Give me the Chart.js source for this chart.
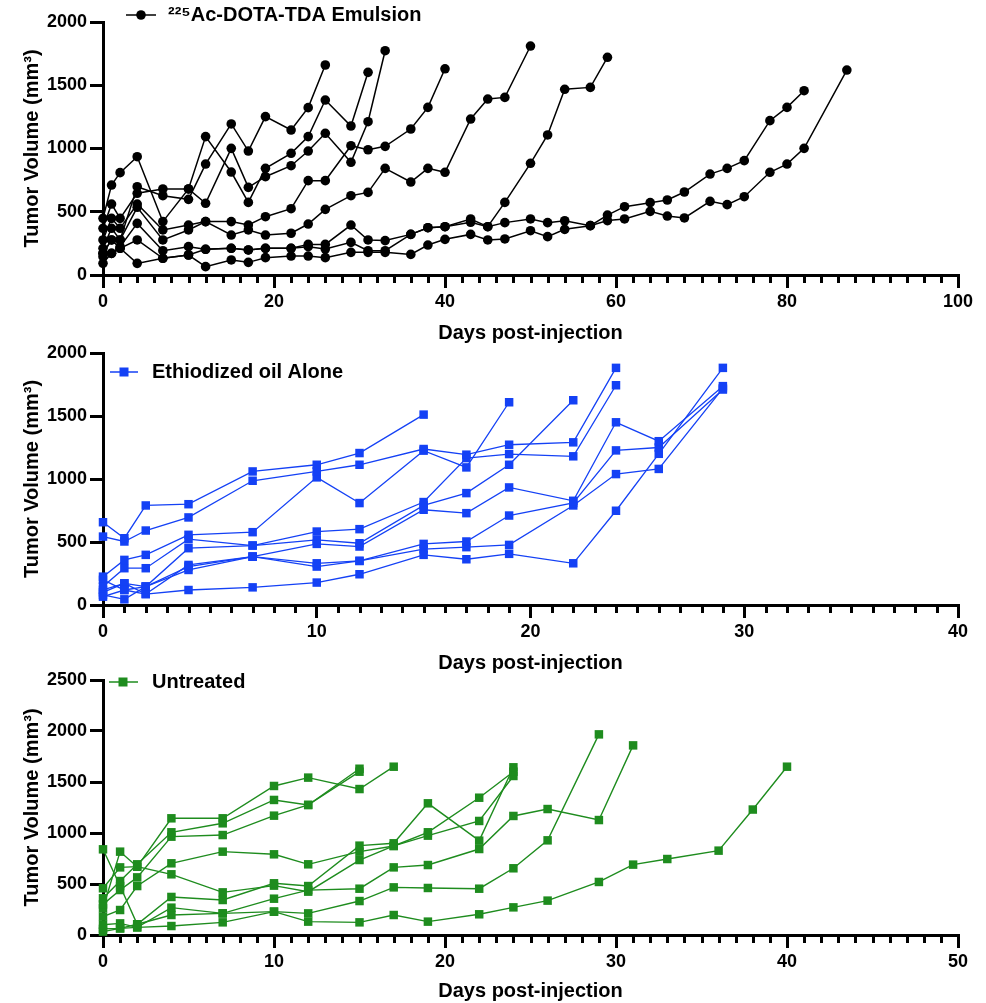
<!DOCTYPE html>
<html><head><meta charset="utf-8">
<script src="https://cdn.jsdelivr.net/npm/chart.js@4.4.1/dist/chart.umd.min.js"></script>
<style>
html,body{margin:0;padding:0;background:#fff;}
body{width:986px;height:1003px;position:relative;overflow:hidden;}
canvas{position:absolute;left:0;}
</style></head><body>
<canvas id="c1" width="986" height="345" style="top:0px"></canvas>
<canvas id="c2" width="986" height="345" style="top:330px"></canvas>
<canvas id="c3" width="986" height="343" style="top:660px"></canvas>
<script>
// ---------- Panel 1: 225Ac-DOTA-TDA Emulsion ----------
const acDays = [0,1,2,4,7,10,12,15,17,19,22,24,26,29,31,33,36,38,40,43,45,47,50,52,54,57,59,61,64,66,68,71,73,75,78,80,82,87];
const acMouse1 = [211,369,277,698,627,598,877,1194,980,1252,1146,1323,1660];
const acMouse2 = [448,711,809,935,422,680,1094,814,574,843,962,1094,1383,1178,1602];
const acMouse3 = [369,561,448,646,680,680,567,1001,693,777,864,980,1120,891,1212,1773];
const acMouse4 = [277,448,369,561,356,395,422,422,395,461,524,746,746,1022,990,1017,1154,1325,1630];
const acMouse5 = [171,277,277,535,277,356,422,316,356,316,330,403,519,627,653,843,735,843,812,1233,1391,1404,1810];
const acMouse6 = [145,171,224,408,192,224,203,211,198,211,211,224,205,258,192,192,321,374,382,443,382,574,883,1107,1468,1483,1721];
const acMouse7 = [92,171,211,277,132,158,203,211,198,211,211,242,242,395,277,272,321,374,382,417,382,414,443,414,429,390,474,540,572,593,656,798,843,904,1220,1325,1457];
const acMouse8 = [171,277,211,92,132,158,66,119,100,137,150,150,137,179,179,179,163,237,282,321,277,285,350,303,361,390,430,443,503,466,451,582,556,619,812,877,1001,1620];
const acXTicks = [0,20,40,60,80,100];
const acYTicks = [0,500,1000,1500,2000];

// ---------- Panel 2: Ethiodized oil Alone ----------
const oilDays = [0,1,2,4,7,10,12,15,17,19,22,24,26,29];
const oilMouse1 = [657,530,790,800,1060,1113,1206,1511];
const oilMouse2 = [543,504,591,695,986,1060,1113,1238,1193,1272,1291,1882];
const oilMouse3 = [225,358,398,557,578,1013,809,1225,1092,1609];
const oilMouse4 = [146,292,292,522,472,583,602,817,1166,1198,1180,1744];
const oilMouse5 = [66,119,146,451,472,517,490,790,888,1113,1625];
const oilMouse6 = [100,172,87,318,384,485,464,756,729,933,827,1450,1300,1737];
const oilMouse7 = [80,45,146,278,384,331,350,485,504,710,810,1227,1250,1710];
const oilMouse8 = [200,119,87,119,140,178,244,398,363,406,331,748,1200,1882];
const oilMouse9 = [120,172,146,305,384,305,350,443,459,477,790,1039,1080,1720];
const oilXTicks = [0,10,20,30,40];
const oilYTicks = [0,500,1000,1500,2000];

// ---------- Panel 3: Untreated ----------
const untDays = [0,1,2,4,7,10,12,15,17,19,22,24,26,29,31,33,36,38,40];
const untMouse1 = [360,529,693,1007,1095,1324,1275,1630];
const untMouse2 = [300,441,565,964,980,1170,1275,1601];
const untMouse3 = [458,663,670,1144,1144,1461,1543,1431,1650];
const untMouse4 = [840,480,105,373,343,507,480,876,899,1291,925,1644];
const untMouse5 = [180,245,480,703,817,791,693,817,873,1007,1346,1601];
const untMouse6 = [261,817,670,595,418,484,425,735,873,974,1118,1559];
const untMouse7 = [100,114,75,268,212,356,440,454,663,686,843,1167,1235,1127,1859];
const untMouse8 = [60,65,105,196,212,229,212,333,467,461,454,654,928,1967];
const untMouse9 = [33,65,75,88,124,229,131,124,196,131,203,271,337,520,690,745,827,1230,1650];
const untXTicks = [0,10,20,30,40,50];
const untYTicks = [0,500,1000,1500,2000,2500];

const FONT = "'Liberation Sans', Arial, Helvetica, sans-serif";
Chart.defaults.font.family = FONT;
Chart.defaults.font.weight = 'bold';
Chart.defaults.color = '#000';

function toPoints(days, vals) { return vals.map((v, i) => ({ x: days[i], y: v })); }

function makeSets(days, mice, color, style, radius, lw) {
  return mice.map((vals, i) => ({
    label: 'mouse ' + (i + 1),
    data: toPoints(days, vals),
    borderColor: color, backgroundColor: color,
    borderWidth: lw, pointStyle: style, pointRadius: radius, pointHoverRadius: radius,
    pointBorderWidth: 0, tension: 0, fill: false, clip: false
  }));
}

function legendIcon(color, shape, w) {
  const c = document.createElement('canvas');
  c.width = w; c.height = 14;
  const g = c.getContext('2d');
  g.strokeStyle = color; g.lineWidth = 1.5;
  g.beginPath(); g.moveTo(0, 7); g.lineTo(w, 7); g.stroke();
  g.fillStyle = color;
  if (shape === 'circle') { g.beginPath(); g.arc(w / 2, 7, 4.8, 0, Math.PI * 2); g.fill(); }
  else { g.fillRect(w / 2 - 4.5, 2.5, 9, 9); }
  return c;
}

const placeLegend = {
  id: 'placeLegend',
  beforeDraw(chart, args, opts) {
    const lg = chart.legend; if (!lg) return;
    lg.left = opts.x; lg.top = opts.y; lg.width = 600; lg.height = 40;
    lg.right = opts.x + 600; lg.bottom = opts.y + 40;
  }
};

const minorTicks = {
  id: 'minorTicks',
  afterDraw(chart, args, opts) {
    const xs = chart.scales.x; const ctx = chart.ctx; const b = chart.chartArea.bottom;
    ctx.save(); ctx.strokeStyle = '#000'; ctx.lineWidth = 3;
    for (let v = xs.min; v <= xs.max + 1e-9; v += opts.step) {
      if (opts.major.includes(v)) continue;
      const px = Math.round(xs.getPixelForValue(v)) + 0.5;
      ctx.beginPath(); ctx.moveTo(px, b); ctx.lineTo(px, b + opts.len); ctx.stroke();
    }
    ctx.restore();
  }
};

function makeChart(id, cfg) {
  return new Chart(document.getElementById(id), {
    type: 'line',
    data: { datasets: cfg.sets },
    options: {
      responsive: false, animation: false, devicePixelRatio: 1,
      layout: { padding: { left: 0, right: 28, top: cfg.padTop, bottom: 0 } },
      plugins: {
        legend: {
          display: true, position: 'chartArea', align: 'start', onClick: null,
          labels: {
            usePointStyle: true, pointStyleWidth: cfg.legendBox, padding: 0, color: '#000',
            font: { size: 20, weight: 'bold', family: FONT },
            generateLabels: () => [{
              text: cfg.legendText, pointStyle: cfg.icon, fillStyle: cfg.color, strokeStyle: cfg.color,
              lineWidth: 0, hidden: false, datasetIndex: 0, fontColor: '#000'
            }]
          }
        },
        tooltip: { enabled: false },
        placeLegend: { x: cfg.legendX, y: cfg.legendY },
        minorTicks: { step: cfg.minorStep, major: cfg.xTicks, len: 8 }
      },
      scales: {
        x: {
          type: 'linear', min: cfg.xTicks[0], max: cfg.xTicks[cfg.xTicks.length - 1],
          afterBuildTicks: s => { s.ticks = cfg.xTicks.map(v => ({ value: v })); },
          afterFit: s => { s.height = cfg.xAxisH; },
          grid: { display: true, drawOnChartArea: false, drawTicks: true, tickLength: 13, lineWidth: 3, color: '#000' },
          border: { display: true, width: 3, color: '#000' },
          ticks: { padding: 3, color: '#000', font: { size: 18, weight: 'bold' }, maxRotation: 0, autoSkip: false,
                   callback: v => String(v) },
          title: { display: true, text: 'Days post-injection', color: '#000', font: { size: 20, weight: 'bold' }, padding: { top: 0, bottom: 0 } }
        },
        y: {
          type: 'linear', min: cfg.yTicks[0], max: cfg.yTicks[cfg.yTicks.length - 1],
          afterBuildTicks: s => { s.ticks = cfg.yTicks.map(v => ({ value: v })); },
          afterFit: s => { s.width = 103; },
          grid: { display: true, drawOnChartArea: false, drawTicks: true, tickLength: 13, lineWidth: 3, color: '#000' },
          border: { display: true, width: 3, color: '#000' },
          ticks: { padding: 3, color: '#000', font: { size: 18, weight: 'bold' }, autoSkip: false,
                   callback: v => String(v) },
          title: { display: true, text: 'Tumor Volume (mm³)', color: '#000', font: { size: 20, weight: 'bold' }, padding: { top: 20, bottom: 0 } }
        }
      }
    },
    plugins: [placeLegend, minorTicks]
  });
}

const BLACK = '#000000', BLUE = '#1441F5', GREEN = '#1E8C1E';

makeChart('c1', {
  sets: makeSets(acDays, [acMouse1, acMouse2, acMouse3, acMouse4, acMouse5, acMouse6, acMouse7, acMouse8], BLACK, 'circle', 4.8, 1.5),
  padTop: 22, xAxisH: 70, xTicks: acXTicks, yTicks: acYTicks, minorStep: 2,
  legendText: '²²⁵Ac-DOTA-TDA Emulsion', color: BLACK, icon: legendIcon(BLACK, 'circle', 30),
  legendBox: 34, legendX: 124, legendY: 5
});

makeChart('c2', {
  sets: makeSets(oilDays, [oilMouse1, oilMouse2, oilMouse3, oilMouse4, oilMouse5, oilMouse6, oilMouse7, oilMouse8, oilMouse9], BLUE, 'rect', 6, 1.3),
  padTop: 23, xAxisH: 70, xTicks: oilXTicks, yTicks: oilYTicks, minorStep: 1,
  legendText: 'Ethiodized oil Alone', color: BLUE, icon: legendIcon(BLUE, 'rect', 28),
  legendBox: 36, legendX: 106, legendY: 32
});

makeChart('c3', {
  sets: makeSets(untDays, [untMouse1, untMouse2, untMouse3, untMouse4, untMouse5, untMouse6, untMouse7, untMouse8, untMouse9], GREEN, 'rect', 6, 1.4),
  padTop: 20, xAxisH: 68, xTicks: untXTicks, yTicks: untYTicks, minorStep: 1,
  legendText: 'Untreated', color: GREEN, icon: legendIcon(GREEN, 'rect', 29),
  legendBox: 38, legendX: 104, legendY: 12
});
</script>
</body></html>
